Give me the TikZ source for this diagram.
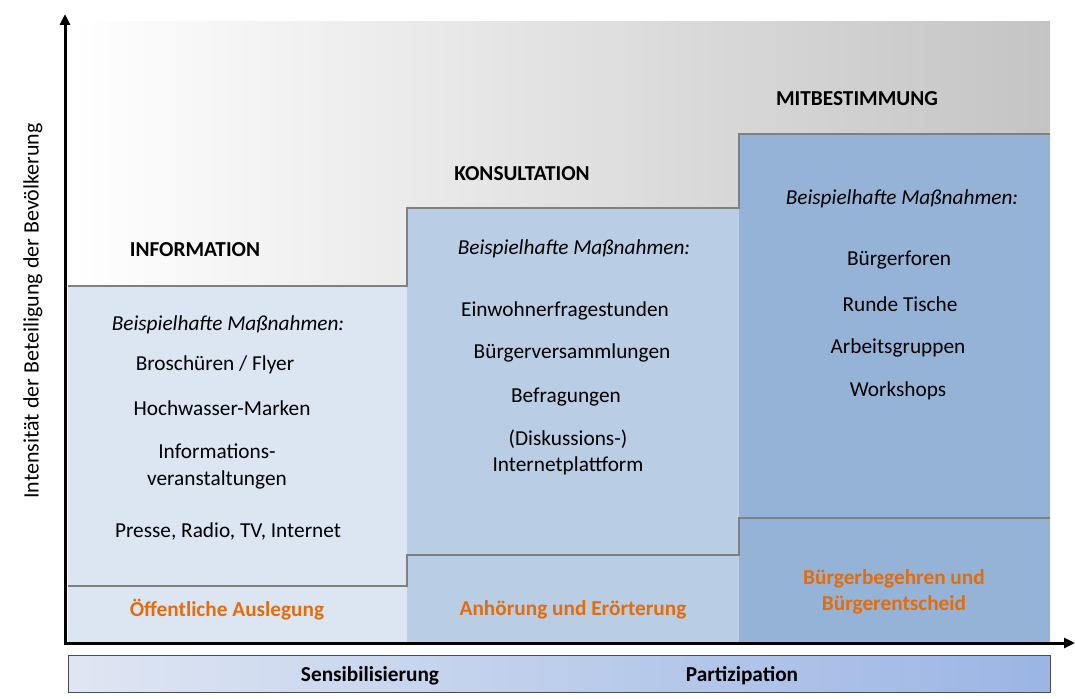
\documentclass[tikz,border=0pt]{standalone}
\usepackage{fontspec}
\setmainfont{Carlito}
\usetikzlibrary{arrows.meta}
\definecolor{colA}{RGB}{220,230,242}
\definecolor{colB}{RGB}{185,205,229}
\definecolor{colC}{RGB}{149,179,215}
\definecolor{stepgray}{RGB}{128,128,128}
\definecolor{topgray}{RGB}{196,196,196}
\definecolor{barL}{RGB}{223,230,243}
\definecolor{barR}{RGB}{155,181,228}
\definecolor{orangeT}{RGB}{228,108,10}
\tikzset{
  txt/.style={inner sep=0pt, yshift=-1.8pt},
  head/.style={txt, font=\fontsize{21.3}{26}\selectfont\bfseries},
  item/.style={txt, font=\fontsize{21.3}{26}\selectfont, align=center},
  bsp/.style={txt, font=\fontsize{21.3}{26}\selectfont\itshape},
  orange/.style={txt, font=\fontsize{21.3}{26}\selectfont\bfseries, text=orangeT, align=center},
  barlabel/.style={txt, font=\fontsize{21.3}{26}\selectfont\bfseries},
  axis/.style={line width=3pt, -{Triangle[length=11pt,width=10pt]}},
  stepline/.style={draw=stepgray, line width=2.2pt}
}
\begin{document}
\begin{tikzpicture}[x=1pt,y=-1pt]
\useasboundingbox (0,0) rectangle (1075,698);
% background gradient
\shade[left color=white, right color=topgray] (68,22) rectangle (1050,642);
% columns
\fill[colA] (68,286) rectangle (407,642);
\fill[colB] (407,208) rectangle (739,642);
\fill[colC] (739,134) rectangle (1050,642);
% step lines
\draw[stepline] (68,286) -- (407,286) -- (407,208) -- (739,208) -- (739,134) -- (1050,134);
\draw[stepline] (68,586) -- (407,586) -- (407,555) -- (739,555) -- (739,518) -- (1050,518);
% bottom bar
\shade[left color=barL, right color=barR] (68,655) rectangle (1050,692);
\draw[draw=black!70, line width=1pt] (68,655) rectangle (1050,692);
\node[barlabel] (sens) at (370,674) {Sensibilisierung};
\node[barlabel] (part) at (742,674) {Partizipation};
% axes
\coordinate (origin) at (65,643);
\coordinate (ytip) at (65,14);
\coordinate (xtip) at (1075,643);
\draw[axis] (origin) -- (ytip);
\draw[axis] ([xshift=-1.5pt]origin) -- (xtip);
\node[font=\fontsize{22}{26}\selectfont, rotate=90, inner sep=0pt] (ylab) at (33,311) {Intensität der Beteiligung der Bevölkerung};
% headers
\node[head] (info) at (195,248) {INFORMATION};
\node[head] (kons) at (522,172) {KONSULTATION};
\node[head] (mitb) at (857,97) {MITBESTIMMUNG};
% column 1
\node[bsp] (b1) at (228,323) {Beispielhafte Maßnahmen:};
\node[item] (i11) at (215,363) {Broschüren / Flyer};
\node[item] (i12) at (222,406) {Hochwasser-Marken};
\node[item] (i13) at (217,465) {Informations-\\[1pt]veranstaltungen};
\node[item] (i14) at (228,530) {Presse, Radio, TV, Internet};
\node[orange] (o1) at (227,608) {Öffentliche Auslegung};
% column 2
\node[bsp] (b2) at (574,247) {Beispielhafte Maßnahmen:};
\node[item] (i21) at (565,309) {Einwohnerfragestunden};
\node[item] (i22) at (572,351) {Bürgerversammlungen};
\node[item] (i23) at (566,395) {Befragungen};
\node[item] (i24) at (568,451) {(Diskussions-)\\Internetplattform};
\node[orange] (o2) at (573,608) {Anhörung und Erörterung};
% column 3
\node[bsp] (b3) at (902,197) {Beispielhafte Maßnahmen:};
\node[item] (i31) at (899,258) {Bürgerforen};
\node[item] (i32) at (900,302) {Runde Tische};
\node[item] (i33) at (898,346) {Arbeitsgruppen};
\node[item] (i34) at (898,389) {Workshops};
\node[orange] (o3) at (894,590) {Bürgerbegehren und\\Bürgerentscheid};
\end{tikzpicture}
\end{document}
